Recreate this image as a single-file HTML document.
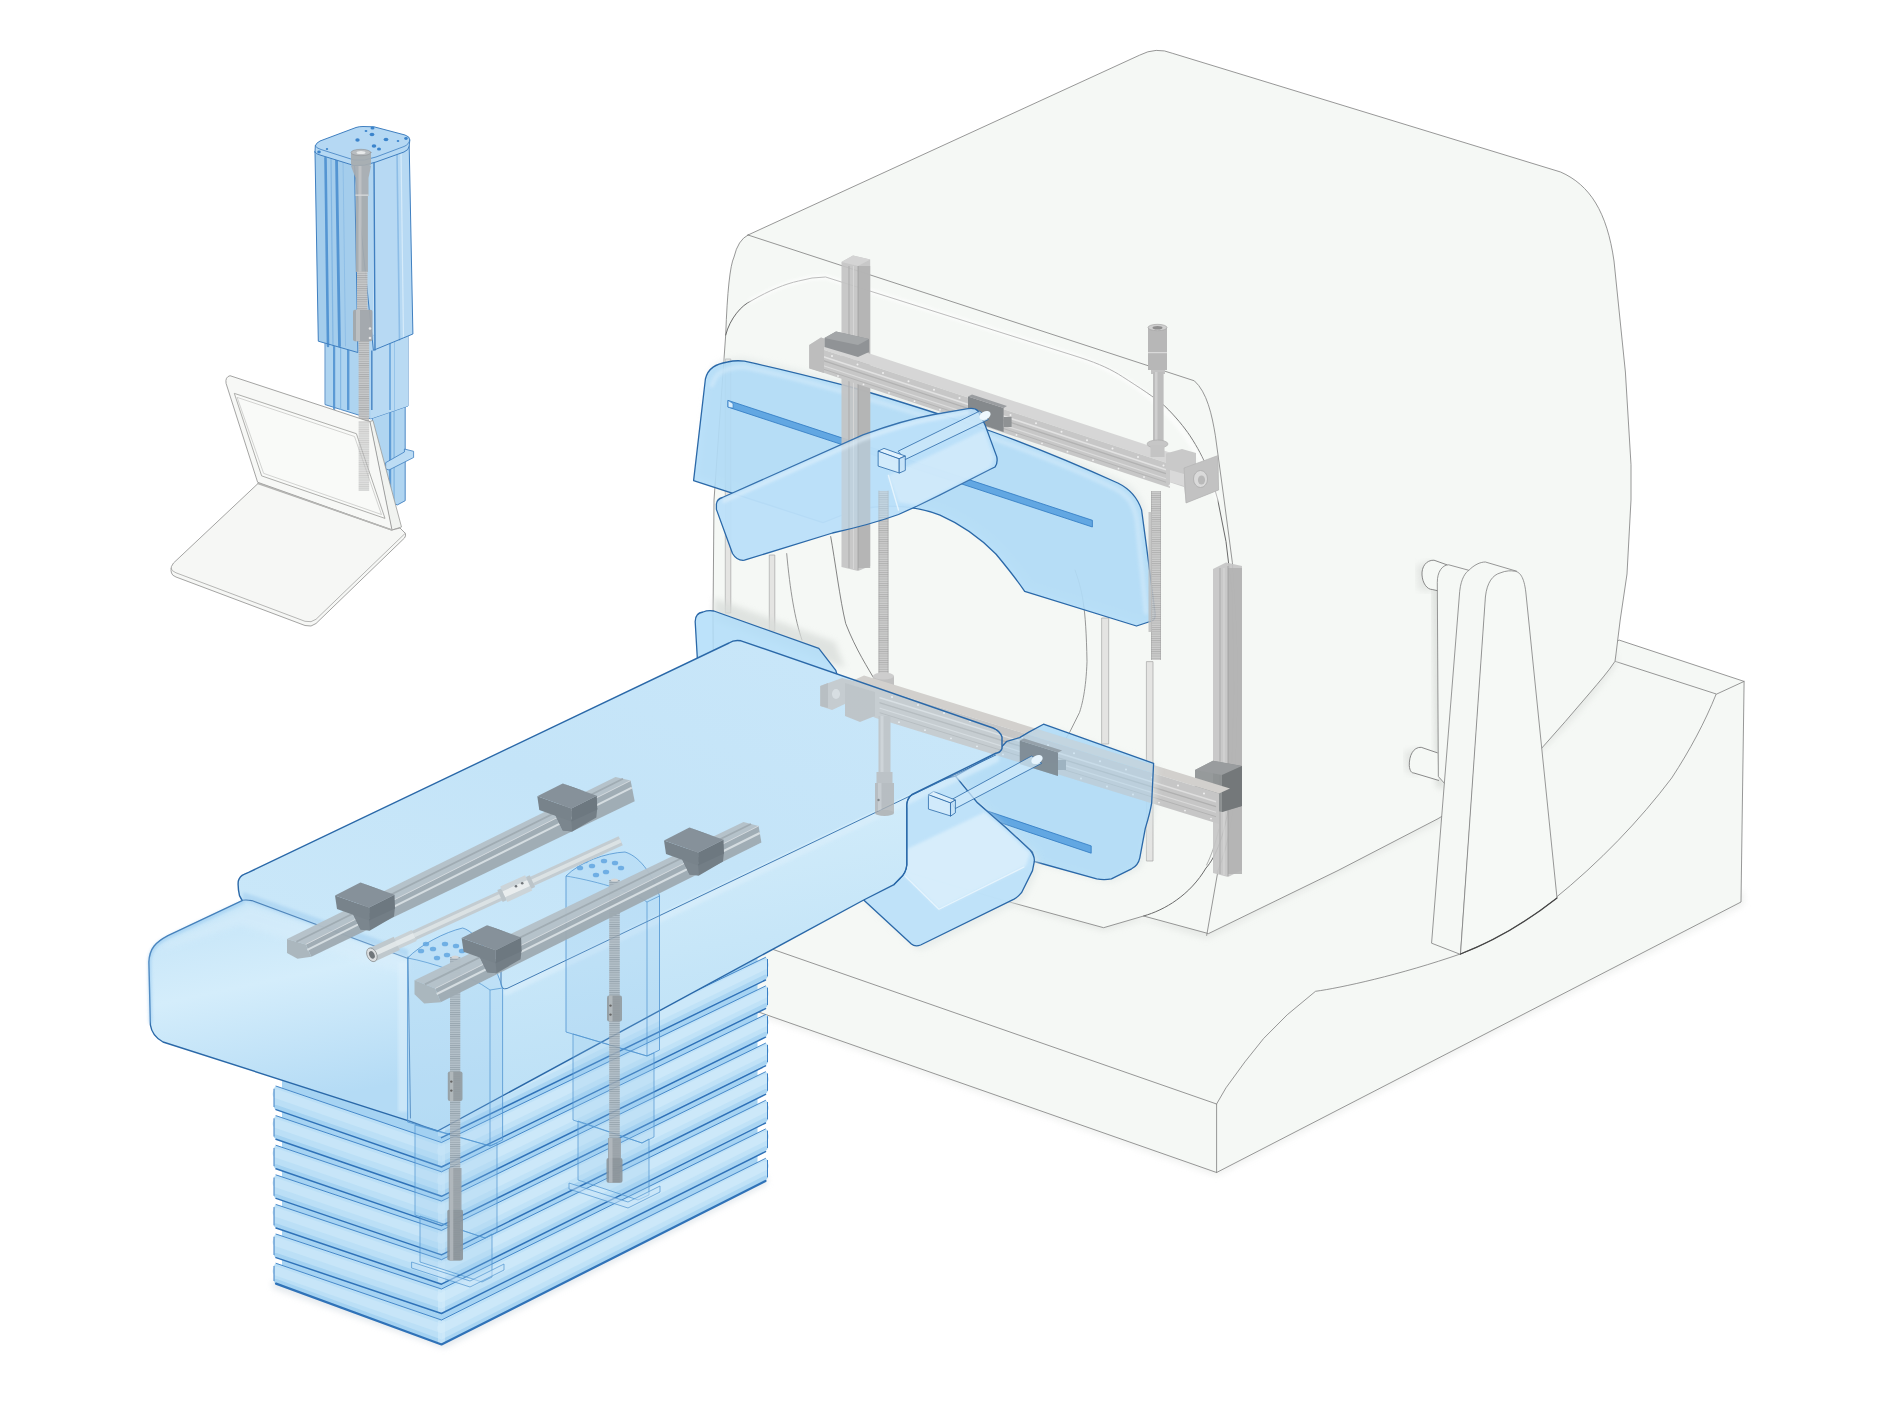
<!DOCTYPE html>
<html><head><meta charset="utf-8"><title>Scanner illustration</title>
<style>
html,body{margin:0;padding:0;background:#fff;font-family:"Liberation Sans",sans-serif;}
svg{display:block}
</style></head><body>
<svg width="1890" height="1417" viewBox="0 0 1890 1417">
<defs>
<linearGradient id="gRib" x1="0" y1="0" x2="0" y2="1">
  <stop offset="0" stop-color="#cbe7f9"/><stop offset="0.55" stop-color="#b4daf5"/><stop offset="1" stop-color="#9ccdf1"/>
</linearGradient>
<linearGradient id="gRibR" x1="0" y1="0" x2="0" y2="1">
  <stop offset="0" stop-color="#d2eafa"/><stop offset="0.55" stop-color="#bcdff6"/><stop offset="1" stop-color="#a4d1f2"/>
</linearGradient>
<linearGradient id="gEnd" x1="0" y1="0" x2="0.25" y2="1">
  <stop offset="0" stop-color="#c2e3f7"/><stop offset="0.45" stop-color="#d4edfb"/><stop offset="1" stop-color="#b4dbf5"/>
</linearGradient>
<linearGradient id="gSide" x1="0" y1="0" x2="0.3" y2="1">
  <stop offset="0" stop-color="#c6e5f8"/><stop offset="0.5" stop-color="#d2ecfa"/><stop offset="1" stop-color="#bce0f6"/>
</linearGradient>
<linearGradient id="gTop" x1="0" y1="1" x2="1" y2="0">
  <stop offset="0" stop-color="#cbe8f9"/><stop offset="0.5" stop-color="#c4e4f8"/><stop offset="1" stop-color="#cae7f9"/>
</linearGradient>
<linearGradient id="gDet" x1="0" y1="0" x2="1" y2="1">
  <stop offset="0" stop-color="#a9d4f4" stop-opacity="0.85"/><stop offset="0.5" stop-color="#bfe0f8" stop-opacity="0.8"/><stop offset="1" stop-color="#b3daf6" stop-opacity="0.85"/>
</linearGradient>
<linearGradient id="gCol" x1="0" y1="0" x2="1" y2="0">
  <stop offset="0" stop-color="#9fcbec"/><stop offset="1" stop-color="#b4d8f2"/>
</linearGradient>
<pattern id="thr" width="4" height="2.2" patternUnits="userSpaceOnUse">
  <rect width="4" height="2.2" fill="#c9c9c9"/><rect y="0" width="4" height="0.9" fill="#a9a9a9"/>
</pattern>
<pattern id="thr2" width="4" height="2.2" patternUnits="userSpaceOnUse">
  <rect width="4" height="2.2" fill="#b4bbc0"/><rect y="0" width="4" height="0.9" fill="#8d969c"/>
</pattern>
<filter id="soft" x="-5%" y="-5%" width="110%" height="110%"><feGaussianBlur stdDeviation="3"/></filter>
<filter id="soft2" x="-5%" y="-5%" width="110%" height="110%"><feGaussianBlur stdDeviation="1.5"/></filter>
</defs>
<rect x="0.0" y="0.0" width="1890.0" height="1417.0" fill="#ffffff" />
<g id="base" stroke-linejoin="round" stroke-linecap="round">
<path d="M700,995 L1216.6,1176 L1744,905 L1744,890 L1216.6,1160 L700,980 Z" fill="#e9ebe9" stroke="none" stroke-width="1" filter="url(#soft)" opacity="0.7"/>
<path d="M690,920.5 L690,988 L1216.6,1172.5 L1741,902 L1744.1,681.4 L1619.2,640.1 L1500,690 L900,690 Z" fill="#f5f8f5" stroke="#7d7d7d" stroke-width="0.8" />
<path d="M690,920.5 L1216.6,1104 L1216.6,1172.5" fill="none" stroke="#7d7d7d" stroke-width="0.8" />
<path d="M1216.6,1104 L1226,1087.8 L1244.9,1061.9 L1263.7,1038.4 L1287.2,1014.8 L1315.5,991.3 C1340,988 1400,975 1461.5,953.6 C1500,938 1530,918 1553,900 C1600,862 1640,820 1671.7,778 C1690,750 1705,722 1716,694.5" fill="none" stroke="#7d7d7d" stroke-width="0.8" />
<path d="M1615,661.3 L1716.6,694.1 L1744.1,681.4" fill="none" stroke="#7d7d7d" stroke-width="0.8" />
</g>
<g id="gantry" stroke-linejoin="round" stroke-linecap="round">
<path d="M1000,902 L1103.6,931 L1143.6,920 L1207,939 L1438,823 C1500,790 1560,745 1616,665 L1616,650 L1207,925 Z" fill="#e3e6e3" stroke="none" stroke-width="1" filter="url(#soft)" opacity="0.8"/>
<path d="M748,235 L1139.5,55.2 Q1156.2,46.5 1172.8,53.4 L1560.6,172 C1590,185 1607,212 1614,261 L1625.4,372 L1631,464.7 L1631,500 L1627,574 L1620.2,620 L1616,653.9 L1615,661.3 C1608,672 1599,682 1590.6,692 L1565.2,721.6 L1540.8,749.2 C1522,768 1503,780 1486.5,789 L1438,818.7 L1338,870.5 L1208.5,933.6 L1143.6,916 L1103.6,927.7 L1000,899.4 L900,870 L714,800 L713,620 L714,500 L725.7,335 Q728,270 734,257 Q738,240 748,235 Z" fill="#f5f8f5" stroke="#7d7d7d" stroke-width="0.8" />
<path d="M748,235 L1194.3,380.8 C1207,392 1212,415 1215.4,435.8 L1224,499 L1232.4,562.8 L1236.6,630 L1238,685 L1234.5,796 C1230,840 1222,860 1218,870.5 L1206.7,935.4" fill="none" stroke="#7d7d7d" stroke-width="0.8" />
<path d="M725.7,335 C730,318 742,305 751,301 C770,290 785,284 798.5,281 Q812,277 825.6,277 L1080,357.5 C1100,364 1112,370 1122.3,376.6 C1140,388 1154,397 1164.7,406 C1176,417 1184,427 1190,435.8 C1198,448 1203,458 1207,467.6 C1212,480 1215,490 1217.6,499 L1226,541.6 L1232.4,594.5 L1234,690 L1231,790 C1226,835 1215,858 1206,868 C1190,895 1165,910 1143.6,916" fill="none" stroke="#6a6a6a" stroke-width="1.0" />
<path d="M751,301 C770,290 785,284 798.5,281 Q812,277 825.6,277 L1080,357.5 C1140,380 1190,420 1217.6,499" fill="none" stroke="#ffffff" stroke-width="5" opacity="0.6" filter="url(#soft2)"/>
<path d="M786.7,553.6 C790,590 795,620 802,640" fill="none" stroke="#7d7d7d" stroke-width="0.8" />
<path d="M830.7,536.6 C835,560 840,600 845.7,623.5 C856,650 868,668 876,682" fill="none" stroke="#666" stroke-width="0.8" />
<path d="M1075,570 C1082,590 1086,605 1087,661.6 C1086,690 1082,705 1079.5,712.5 L1069.4,732.8 L1062,745" fill="none" stroke="#7d7d7d" stroke-width="0.8" />
<path d="M1219,829 C1215,845 1211,856 1206.6,865" fill="none" stroke="#7d7d7d" stroke-width="0.6" />
</g>
<g id="pillar" stroke-linejoin="round" stroke-linecap="round">
<path d="M1432,566 L1440,566 L1444,790 L1436,786 Z" fill="#d5d9d5" stroke="none" stroke-width="1" filter="url(#soft)" opacity="0.8"/>
<path d="M1416,566 L1432,560 L1432,592 L1418,590 Z" fill="#d9dcd9" stroke="none" stroke-width="1" filter="url(#soft)" opacity="0.6"/>
<path d="M1404,752 L1420,747 L1418,776 L1406,772 Z" fill="#d9dcd9" stroke="none" stroke-width="1" filter="url(#soft)" opacity="0.6"/>
<path d="M1446.9,564.8 L1434,560.2 C1426,560 1421.5,567 1422,575 C1422.5,583 1427,589.5 1432.2,589.5 L1440,591 L1446,580 Z" fill="#f5f8f5" stroke="none" stroke-width="1" />
<path d="M1446.9,564.8 L1434,560.2 C1426,560 1421.5,567 1422,575 C1422.5,583 1427,589.5 1432.2,589.5 L1438,590.8" fill="none" stroke="#7d7d7d" stroke-width="0.9" />
<path d="M1437.3,752.8 L1421.2,747.3 C1413,747 1409,756 1409.3,765.7 C1409.8,771 1411.5,773 1413.9,773 L1438.6,780.4 Z" fill="#f5f8f5" stroke="none" stroke-width="1" />
<path d="M1437.3,752.8 L1421.2,747.3 C1413,747 1409,756 1409.3,765.7 C1409.8,771 1411.5,773 1413.9,773 L1438.6,780.4" fill="none" stroke="#7d7d7d" stroke-width="0.9" />
<path d="M1437.3,582 C1437.3,572 1442,565 1448.7,564.8 L1468.9,570.3 L1450,790 L1445,784 L1438.6,776.7 Z" fill="#f5f8f5" stroke="#7d7d7d" stroke-width="0.8" />
<path d="M1431.6,942.8 L1459.7,591.4 C1461,578 1466,572 1468.9,570.3 C1474,565 1480,562 1485.4,562 L1516.6,571.2 L1486,600 L1460.5,954 Z" fill="#f5f8f5" stroke="#7d7d7d" stroke-width="0.8" />
<path d="M1460.5,954 L1485.4,597 C1487,582 1493,575 1500,573 C1506,570.5 1511,570.5 1514.8,571.2 C1520,572 1524,577 1525.8,592 L1557,898 Q1510,935 1460.5,954 Z" fill="#f6f9f6" stroke="#7d7d7d" stroke-width="0.8" />
<path d="M1460.5,954 Q1510,935 1557,898" fill="none" stroke="#444" stroke-width="1.2" />
</g>
<g id="detectors" stroke-linejoin="round" stroke-linecap="round">
<rect x="725.7" y="359.0" width="5.1" height="254.0" fill="#e4e4e2" stroke="#a5a5a5" stroke-width="0.7"/>
<rect x="769.7" y="555.0" width="5.1" height="76.0" fill="#e4e4e2" stroke="#a5a5a5" stroke-width="0.7"/>
<rect x="1102.0" y="618.0" width="6.7" height="126.0" fill="#e4e4e2" stroke="#a5a5a5" stroke-width="0.7"/>
<rect x="1146.8" y="661.6" width="6.2" height="199.4" fill="#e4e4e2" stroke="#a5a5a5" stroke-width="0.7"/>
<path d="M693.6,480.6 L705.4,379 C708,368 716,364 727.4,362 Q736,360 744.4,361.2 C790,371 820,379 850.6,387 C900,401 945,416 989,430.5 C1035,447 1080,466 1117.8,483 C1130,489 1138,499 1141.6,510 L1146.6,547.4 L1155,612 Q1156,620 1151.7,621 L1136.5,626 L1024.7,591.4 C1015,577 1005,565 995.9,554 C980,538 960,524 940,515.2 C915,505 880,503 850,512 L823,522.6 Z" fill="#dfe5e4" stroke="none" stroke-width="1" filter="url(#soft)" opacity="0.6" transform="translate(3,-3)"/>
<path d="M693.6,480.6 L705.4,379 C708,368 716,364 727.4,362 Q736,360 744.4,361.2 C790,371 820,379 850.6,387 C900,401 945,416 989,430.5 C1035,447 1080,466 1117.8,483 C1130,489 1138,499 1141.6,510 L1146.6,547.4 L1155,612 Q1156,620 1151.7,621 L1136.5,626 L1024.7,591.4 C1015,577 1005,565 995.9,554 C980,538 960,524 940,515.2 C915,505 880,503 850,512 L823,522.6 Z" fill="rgba(170,218,249,0.80)" stroke="#2a68a8" stroke-width="1.3" />
<path d="M712,385 C716,372 724,368 744,367 C800,378 900,407 989,437 C1040,455 1085,474 1116,489 C1130,497 1134,505 1137,520 L1146,612" fill="none" stroke="#d6ecfb" stroke-width="5" opacity="0.55" filter="url(#soft2)"/>
<polygon points="728.3,400.5 1092.4,520.3 1092.4,527.0 728.3,407.2" fill="#62a7e2" stroke="#2f78c2" stroke-width="0.8" />
<polygon points="728.3,400.5 733.0,403.6 733.0,408.1 728.3,407.2" fill="#d9eefc" stroke="#2f78c2" stroke-width="0.6" />
<path d="M714,598 L835,642 L845,668 L714,620 Z" fill="#d8dcd9" stroke="none" stroke-width="1" filter="url(#soft)" opacity="0.75"/>
<path d="M698.6,680 L695.2,622 Q695,613 703,612 Q708,610 713.9,611 L818.8,648.4 L835.8,670.4 L850,720 L700,720 Z" fill="rgba(176,221,249,0.85)" stroke="#2a68a8" stroke-width="1.3" />
</g>
<g id="mech" stroke-linejoin="round">
<polygon points="841.5,262.0 853.0,255.5 870.2,259.5 870.2,566.0 858.0,571.0 841.5,567.0" fill="#c3c3c3" stroke="none" stroke-width="1" opacity="0.92"/>
<polygon points="841.5,262.0 853.0,255.5 870.2,259.5 858.0,266.0" fill="#d4d4d4" stroke="none" stroke-width="1" />
<rect x="858.0" y="266.0" width="12.2" height="302.0" fill="#b3b3b3" opacity="0.9"/>
<line x1="849.0" y1="266.0" x2="849.0" y2="568.0" stroke="#b0b0b0" stroke-width="1.2" />
<line x1="853.5" y1="266.0" x2="853.5" y2="569.0" stroke="#d6d6d6" stroke-width="1.0" />
<line x1="858.0" y1="266.0" x2="858.0" y2="570.0" stroke="#9f9f9f" stroke-width="0.8" />
<polygon points="809.2,345.0 821.0,337.5 1182.0,456.6 1170.0,464.1" fill="#d6d6d6" stroke="none" stroke-width="1" />
<polygon points="809.2,345.0 1170.0,464.1 1170.0,488.1 809.2,368.0" fill="#c7c7c7" stroke="none" stroke-width="1" />
<line x1="822.0" y1="356.2" x2="1166.0" y2="469.7" stroke="#e2e2e2" stroke-width="1.6" />
<line x1="822.0" y1="360.2" x2="1166.0" y2="473.7" stroke="#b2b2b2" stroke-width="1.4" />
<line x1="822.0" y1="365.2" x2="1166.0" y2="478.7" stroke="#dcdcdc" stroke-width="1.2" />
<line x1="822.0" y1="368.7" x2="1166.0" y2="482.2" stroke="#b5b5b5" stroke-width="1.0" />
<circle cx="832.0" cy="356.0" r="1" fill="#efefef"/>
<circle cx="838.0" cy="376.0" r="0.9" fill="#efefef"/>
<circle cx="857.5" cy="364.4" r="1" fill="#efefef"/>
<circle cx="863.5" cy="384.4" r="0.9" fill="#efefef"/>
<circle cx="883.0" cy="372.9" r="1" fill="#efefef"/>
<circle cx="889.0" cy="392.8" r="0.9" fill="#efefef"/>
<circle cx="908.5" cy="381.3" r="1" fill="#efefef"/>
<circle cx="914.5" cy="401.2" r="0.9" fill="#efefef"/>
<circle cx="934.0" cy="389.7" r="1" fill="#efefef"/>
<circle cx="940.0" cy="409.7" r="0.9" fill="#efefef"/>
<circle cx="959.5" cy="398.1" r="1" fill="#efefef"/>
<circle cx="965.5" cy="418.1" r="0.9" fill="#efefef"/>
<circle cx="985.0" cy="406.5" r="1" fill="#efefef"/>
<circle cx="991.0" cy="426.5" r="0.9" fill="#efefef"/>
<circle cx="1010.5" cy="414.9" r="1" fill="#efefef"/>
<circle cx="1016.5" cy="434.9" r="0.9" fill="#efefef"/>
<circle cx="1036.0" cy="423.3" r="1" fill="#efefef"/>
<circle cx="1042.0" cy="443.3" r="0.9" fill="#efefef"/>
<circle cx="1061.5" cy="431.8" r="1" fill="#efefef"/>
<circle cx="1067.5" cy="451.7" r="0.9" fill="#efefef"/>
<circle cx="1087.0" cy="440.2" r="1" fill="#efefef"/>
<circle cx="1093.0" cy="460.2" r="0.9" fill="#efefef"/>
<circle cx="1112.5" cy="448.6" r="1" fill="#efefef"/>
<circle cx="1118.5" cy="468.6" r="0.9" fill="#efefef"/>
<circle cx="1138.0" cy="457.0" r="1" fill="#efefef"/>
<circle cx="1144.0" cy="477.0" r="0.9" fill="#efefef"/>
<circle cx="1163.5" cy="465.4" r="1" fill="#efefef"/>
<circle cx="1169.5" cy="485.4" r="0.9" fill="#efefef"/>
<polygon points="809.2,345.0 821.0,337.5 824.0,338.5 824.0,373.0 809.2,368.6" fill="#bdbdbd" stroke="none" stroke-width="1" />
<polygon points="824.5,338.0 836.0,331.6 869.0,339.0 869.0,352.0 858.0,357.0 824.5,347.0" fill="#909396" stroke="none" stroke-width="1" />
<polygon points="824.5,338.0 836.0,331.6 869.0,339.0 858.0,345.0" fill="#a3a6a8" stroke="none" stroke-width="1" />
<polygon points="968.0,396.4 1003.6,408.0 1003.6,432.0 968.0,420.0" fill="#85898c" stroke="none" stroke-width="1" />
<polygon points="968.0,396.4 972.0,394.6 1007.0,406.0 1003.6,408.0" fill="#9a9da0" stroke="none" stroke-width="1" />
<rect x="1003.6" y="417.0" width="8.0" height="10.0" fill="#8f9294" />
<polygon points="1166.0,453.6 1182.0,449.0 1196.0,453.0 1196.0,470.0 1217.0,461.0 1218.6,490.0 1186.0,503.0 1184.0,487.0 1166.0,481.0" fill="#c9c9c9" stroke="none" stroke-width="1" />
<polygon points="1184.0,468.0 1218.0,455.5 1218.6,490.0 1186.0,503.0" fill="#c2c2c2" stroke="#b0b0b0" stroke-width="0.6" />
<ellipse cx="1200.5" cy="479" rx="7" ry="8.5" fill="#dadada" stroke="#ababab" stroke-width="0.8"/>
<ellipse cx="1201.5" cy="480" rx="3.6" ry="4.6" fill="#b9b9b9"/>
<polygon points="1170.0,470.0 1184.0,474.0 1184.0,486.0 1170.0,482.0" fill="#d9d9d9" stroke="none" stroke-width="1" />
<rect x="1148.0" y="327.0" width="19.0" height="43.0" fill="#b7b7b7" />
<ellipse cx="1157.5" cy="327.5" rx="9.5" ry="3.2" fill="#cfcfcf" stroke="#a0a0a0" stroke-width="0.6"/>
<ellipse cx="1157.5" cy="327.7" rx="5" ry="1.8" fill="#8e8e8e"/>
<rect x="1148.0" y="352.0" width="19.0" height="1.2" fill="#d9d9d9" />
<rect x="1151.0" y="370.0" width="14.0" height="4.0" fill="#c2c2c2" />
<rect x="1153.0" y="372.0" width="10.6" height="70.0" fill="#bdbdbd" />
<rect x="1155.0" y="372.0" width="2.5" height="70.0" fill="#cfcfcf" />
<ellipse cx="1157.5" cy="444" rx="10.5" ry="4" fill="#c6c6c6" stroke="#a8a8a8" stroke-width="0.6"/>
<rect x="1150.5" y="445.0" width="14.0" height="12.0" fill="#c4c4c4" />
<rect x="1151.0" y="491.0" width="10.0" height="169.0" fill="url(#thr)" opacity="0.9"/>
<line x1="1151.3" y1="491.0" x2="1151.3" y2="660.0" stroke="#9c9c9c" stroke-width="0.6" opacity="0.9"/>
<line x1="1160.7" y1="491.0" x2="1160.7" y2="660.0" stroke="#9c9c9c" stroke-width="0.6" opacity="0.9"/>
<rect x="1148.5" y="512.0" width="3.5" height="120.0" fill="#bcbcbc" opacity="0.8"/>
<polygon points="1213.0,569.0 1226.0,562.5 1242.0,566.0 1242.0,870.0 1228.0,877.0 1213.0,873.0" fill="#c4c4c4" stroke="none" stroke-width="1" opacity="0.92"/>
<rect x="1228.0" y="568.0" width="14.0" height="306.0" fill="#b2b2b2" opacity="0.9"/>
<line x1="1220.0" y1="568.0" x2="1220.0" y2="874.0" stroke="#b0b0b0" stroke-width="1.2" />
<line x1="1224.0" y1="568.0" x2="1224.0" y2="875.0" stroke="#d8d8d8" stroke-width="1.0" />
<line x1="1228.0" y1="566.0" x2="1228.0" y2="876.0" stroke="#a0a0a0" stroke-width="0.8" />
<polygon points="1195.0,770.0 1213.0,760.7 1242.0,766.0 1242.0,806.0 1222.0,812.0 1195.0,806.0" fill="#85898b" stroke="none" stroke-width="1" opacity="0.85"/>
<polygon points="1195.0,770.0 1213.0,760.7 1242.0,766.0 1222.0,775.0" fill="#999c9e" stroke="none" stroke-width="1" />
<polygon points="1222.0,775.0 1242.0,766.0 1242.0,806.0 1222.0,812.0" fill="#74787a" stroke="none" stroke-width="1" />
<rect x="878.6" y="491.0" width="9.8" height="190.0" fill="url(#thr)" opacity="0.9"/>
<line x1="878.9" y1="491.0" x2="878.9" y2="681.0" stroke="#9c9c9c" stroke-width="0.6" opacity="0.9"/>
<line x1="888.1" y1="491.0" x2="888.1" y2="681.0" stroke="#9c9c9c" stroke-width="0.6" opacity="0.9"/>
<ellipse cx="883.5" cy="491" rx="4.9" ry="1.8" fill="#c4c4c4"/>
<rect x="873.0" y="676.0" width="21.0" height="9.0" fill="#c0c0c0" />
<ellipse cx="883.5" cy="676" rx="10.5" ry="3.5" fill="#cdcdcd"/>
<polygon points="853.0,680.5 864.0,675.5 1230.0,788.6 1219.0,793.6" fill="#d2d0cd" stroke="none" stroke-width="1" />
<polygon points="853.0,680.5 1219.0,793.6 1219.0,824.1 875.0,717.8 853.0,706.5" fill="#c6c6c6" stroke="none" stroke-width="1" />
<line x1="880.0" y1="697.8" x2="1216.0" y2="801.7" stroke="#dedede" stroke-width="1.5" />
<line x1="880.0" y1="702.8" x2="1216.0" y2="806.7" stroke="#b0b0b0" stroke-width="1.4" />
<line x1="880.0" y1="708.3" x2="1216.0" y2="812.2" stroke="#dadada" stroke-width="1.2" />
<line x1="880.0" y1="712.8" x2="1216.0" y2="816.7" stroke="#b3b3b3" stroke-width="1.0" />
<circle cx="892.0" cy="697.1" r="1" fill="#f0f0f0"/>
<circle cx="899.0" cy="722.2" r="0.9" fill="#f0f0f0"/>
<circle cx="918.0" cy="705.1" r="1" fill="#f0f0f0"/>
<circle cx="925.0" cy="730.2" r="0.9" fill="#f0f0f0"/>
<circle cx="944.0" cy="713.1" r="1" fill="#f0f0f0"/>
<circle cx="951.0" cy="738.3" r="0.9" fill="#f0f0f0"/>
<circle cx="970.0" cy="721.2" r="1" fill="#f0f0f0"/>
<circle cx="977.0" cy="746.3" r="0.9" fill="#f0f0f0"/>
<circle cx="996.0" cy="729.2" r="1" fill="#f0f0f0"/>
<circle cx="1003.0" cy="754.4" r="0.9" fill="#f0f0f0"/>
<circle cx="1022.0" cy="737.2" r="1" fill="#f0f0f0"/>
<circle cx="1029.0" cy="762.4" r="0.9" fill="#f0f0f0"/>
<circle cx="1048.0" cy="745.3" r="1" fill="#f0f0f0"/>
<circle cx="1055.0" cy="770.4" r="0.9" fill="#f0f0f0"/>
<circle cx="1074.0" cy="753.3" r="1" fill="#f0f0f0"/>
<circle cx="1081.0" cy="778.5" r="0.9" fill="#f0f0f0"/>
<circle cx="1100.0" cy="761.3" r="1" fill="#f0f0f0"/>
<circle cx="1107.0" cy="786.5" r="0.9" fill="#f0f0f0"/>
<circle cx="1126.0" cy="769.4" r="1" fill="#f0f0f0"/>
<circle cx="1133.0" cy="794.5" r="0.9" fill="#f0f0f0"/>
<circle cx="1152.0" cy="777.4" r="1" fill="#f0f0f0"/>
<circle cx="1159.0" cy="802.6" r="0.9" fill="#f0f0f0"/>
<circle cx="1178.0" cy="785.4" r="1" fill="#f0f0f0"/>
<circle cx="1185.0" cy="810.6" r="0.9" fill="#f0f0f0"/>
<circle cx="1204.0" cy="793.5" r="1" fill="#f0f0f0"/>
<circle cx="1211.0" cy="818.6" r="0.9" fill="#f0f0f0"/>
<polygon points="820.3,686.0 842.0,678.0 853.4,681.0 853.4,700.0 832.0,710.0 820.3,706.0" fill="#c4c4c4" stroke="none" stroke-width="1" />
<polygon points="820.3,686.0 828.0,683.0 828.0,708.0 820.3,706.0" fill="#b4b4b4" stroke="none" stroke-width="1" />
<polygon points="845.0,683.0 875.0,692.0 875.0,716.0 860.0,722.0 845.0,716.0" fill="#bcbcbc" stroke="none" stroke-width="1" />
<ellipse cx="836" cy="694" rx="4" ry="5" fill="#dcdcdc"/>
<polygon points="1019.8,740.4 1058.0,752.5 1058.0,776.0 1019.8,764.0" fill="#82878a" stroke="none" stroke-width="1" />
<polygon points="1019.8,740.4 1024.0,738.4 1062.0,750.4 1058.0,752.5" fill="#989c9f" stroke="none" stroke-width="1" />
<rect x="1058.0" y="760.0" width="8.0" height="10.0" fill="#8e9193" />
<rect x="878.5" y="716.0" width="12.0" height="60.0" fill="#bebebe" />
<rect x="880.5" y="716.0" width="3.0" height="60.0" fill="#d0d0d0" />
<rect x="876.5" y="772.0" width="16.0" height="12.0" fill="#b9b9b9" />
<rect x="875.0" y="783.0" width="19.0" height="30.0" fill="#b2b2b2" />
<rect x="878.0" y="783.0" width="3.5" height="30.0" fill="#c6c6c6" />
<ellipse cx="884.5" cy="813" rx="9.5" ry="3" fill="#a9a9a9"/>
<circle cx="878.5" cy="800" r="1.2" fill="#6f6f6f"/>
</g>
<g id="detectors2" stroke-linejoin="round" stroke-linecap="round">
<path d="M1043.5,724.2 L1153.6,763.3 L1151.7,802.8 C1150,813 1147.5,821 1145.3,828.4 L1139.8,857.8 C1138.5,864 1135,867 1131.6,868.8 L1111.4,878.9 Q1104,880.3 1096.7,878.9 L1034.3,861.5 L1032.5,852.3 L1006.8,828.4 L977.4,802.8 L955.4,776.1 L995.8,753.2 L1006.8,741.3 L1019.6,737.6 L1028.8,732.1 Z" fill="#dfe5e4" stroke="none" stroke-width="1" filter="url(#soft)" opacity="0.6" transform="translate(4,2)"/>
<path d="M1043.5,724.2 L1153.6,763.3 L1151.7,802.8 C1150,813 1147.5,821 1145.3,828.4 L1139.8,857.8 C1138.5,864 1135,867 1131.6,868.8 L1111.4,878.9 Q1104,880.3 1096.7,878.9 L1034.3,861.5 L1032.5,852.3 L1006.8,828.4 L977.4,802.8 L955.4,776.1 L995.8,753.2 L1006.8,741.3 L1019.6,737.6 L1028.8,732.1 Z" fill="rgba(170,218,249,0.80)" stroke="none" stroke-width="1" />
<clipPath id="clipLR"><path d="M1043.5,724.2 L1153.6,763.3 L1151.7,802.8 C1150,813 1147.5,821 1145.3,828.4 L1139.8,857.8 C1138.5,864 1135,867 1131.6,868.8 L1111.4,878.9 Q1104,880.3 1096.7,878.9 L1034.3,861.5 L1032.5,852.3 L1006.8,828.4 L977.4,802.8 L955.4,776.1 L995.8,753.2 L1006.8,741.3 L1019.6,737.6 L1028.8,732.1 Z"/></clipPath>
<g clip-path="url(#clipLR)" opacity="0.5">
<rect x="878.6" y="491.0" width="9.8" height="190.0" fill="url(#thr)" opacity="0.9"/>
<line x1="878.9" y1="491.0" x2="878.9" y2="681.0" stroke="#9c9c9c" stroke-width="0.6" opacity="0.9"/>
<line x1="888.1" y1="491.0" x2="888.1" y2="681.0" stroke="#9c9c9c" stroke-width="0.6" opacity="0.9"/>
<ellipse cx="883.5" cy="491" rx="4.9" ry="1.8" fill="#c4c4c4"/>
<rect x="873.0" y="676.0" width="21.0" height="9.0" fill="#c0c0c0" />
<ellipse cx="883.5" cy="676" rx="10.5" ry="3.5" fill="#cdcdcd"/>
<polygon points="853.0,680.5 864.0,675.5 1230.0,788.6 1219.0,793.6" fill="#d2d0cd" stroke="none" stroke-width="1" />
<polygon points="853.0,680.5 1219.0,793.6 1219.0,824.1 875.0,717.8 853.0,706.5" fill="#c6c6c6" stroke="none" stroke-width="1" />
<line x1="880.0" y1="697.8" x2="1216.0" y2="801.7" stroke="#dedede" stroke-width="1.5" />
<line x1="880.0" y1="702.8" x2="1216.0" y2="806.7" stroke="#b0b0b0" stroke-width="1.4" />
<line x1="880.0" y1="708.3" x2="1216.0" y2="812.2" stroke="#dadada" stroke-width="1.2" />
<line x1="880.0" y1="712.8" x2="1216.0" y2="816.7" stroke="#b3b3b3" stroke-width="1.0" />
<circle cx="892.0" cy="697.1" r="1" fill="#f0f0f0"/>
<circle cx="899.0" cy="722.2" r="0.9" fill="#f0f0f0"/>
<circle cx="918.0" cy="705.1" r="1" fill="#f0f0f0"/>
<circle cx="925.0" cy="730.2" r="0.9" fill="#f0f0f0"/>
<circle cx="944.0" cy="713.1" r="1" fill="#f0f0f0"/>
<circle cx="951.0" cy="738.3" r="0.9" fill="#f0f0f0"/>
<circle cx="970.0" cy="721.2" r="1" fill="#f0f0f0"/>
<circle cx="977.0" cy="746.3" r="0.9" fill="#f0f0f0"/>
<circle cx="996.0" cy="729.2" r="1" fill="#f0f0f0"/>
<circle cx="1003.0" cy="754.4" r="0.9" fill="#f0f0f0"/>
<circle cx="1022.0" cy="737.2" r="1" fill="#f0f0f0"/>
<circle cx="1029.0" cy="762.4" r="0.9" fill="#f0f0f0"/>
<circle cx="1048.0" cy="745.3" r="1" fill="#f0f0f0"/>
<circle cx="1055.0" cy="770.4" r="0.9" fill="#f0f0f0"/>
<circle cx="1074.0" cy="753.3" r="1" fill="#f0f0f0"/>
<circle cx="1081.0" cy="778.5" r="0.9" fill="#f0f0f0"/>
<circle cx="1100.0" cy="761.3" r="1" fill="#f0f0f0"/>
<circle cx="1107.0" cy="786.5" r="0.9" fill="#f0f0f0"/>
<circle cx="1126.0" cy="769.4" r="1" fill="#f0f0f0"/>
<circle cx="1133.0" cy="794.5" r="0.9" fill="#f0f0f0"/>
<circle cx="1152.0" cy="777.4" r="1" fill="#f0f0f0"/>
<circle cx="1159.0" cy="802.6" r="0.9" fill="#f0f0f0"/>
<circle cx="1178.0" cy="785.4" r="1" fill="#f0f0f0"/>
<circle cx="1185.0" cy="810.6" r="0.9" fill="#f0f0f0"/>
<circle cx="1204.0" cy="793.5" r="1" fill="#f0f0f0"/>
<circle cx="1211.0" cy="818.6" r="0.9" fill="#f0f0f0"/>
<polygon points="820.3,686.0 842.0,678.0 853.4,681.0 853.4,700.0 832.0,710.0 820.3,706.0" fill="#c4c4c4" stroke="none" stroke-width="1" />
<polygon points="820.3,686.0 828.0,683.0 828.0,708.0 820.3,706.0" fill="#b4b4b4" stroke="none" stroke-width="1" />
<polygon points="845.0,683.0 875.0,692.0 875.0,716.0 860.0,722.0 845.0,716.0" fill="#bcbcbc" stroke="none" stroke-width="1" />
<ellipse cx="836" cy="694" rx="4" ry="5" fill="#dcdcdc"/>
<polygon points="1019.8,740.4 1058.0,752.5 1058.0,776.0 1019.8,764.0" fill="#82878a" stroke="none" stroke-width="1" />
<polygon points="1019.8,740.4 1024.0,738.4 1062.0,750.4 1058.0,752.5" fill="#989c9f" stroke="none" stroke-width="1" />
<rect x="1058.0" y="760.0" width="8.0" height="10.0" fill="#8e9193" />
<rect x="878.5" y="716.0" width="12.0" height="60.0" fill="#bebebe" />
<rect x="880.5" y="716.0" width="3.0" height="60.0" fill="#d0d0d0" />
<rect x="876.5" y="772.0" width="16.0" height="12.0" fill="#b9b9b9" />
<rect x="875.0" y="783.0" width="19.0" height="30.0" fill="#b2b2b2" />
<rect x="878.0" y="783.0" width="3.5" height="30.0" fill="#c6c6c6" />
<ellipse cx="884.5" cy="813" rx="9.5" ry="3" fill="#a9a9a9"/>
<circle cx="878.5" cy="800" r="1.2" fill="#6f6f6f"/>
</g>
<g clip-path="url(#clipLR)" opacity="0.55">
<polygon points="1019.8,740.4 1058.0,752.5 1058.0,776.0 1019.8,764.0" fill="#70767a" stroke="none" stroke-width="1" />
<polygon points="1019.8,740.4 1024.0,738.4 1062.0,750.4 1058.0,752.5" fill="#8a8f93" stroke="none" stroke-width="1" />
</g>
<path d="M1043.5,724.2 L1153.6,763.3 L1151.7,802.8 C1150,813 1147.5,821 1145.3,828.4 L1139.8,857.8 C1138.5,864 1135,867 1131.6,868.8 L1111.4,878.9 Q1104,880.3 1096.7,878.9 L1034.3,861.5 L1032.5,852.3 L1006.8,828.4 L977.4,802.8 L955.4,776.1 L995.8,753.2 L1006.8,741.3 L1019.6,737.6 L1028.8,732.1 Z" fill="none" stroke="#2a68a8" stroke-width="1.3" />
<polygon points="985.0,810.2 1091.2,845.9 1091.2,853.2 985.0,817.5" fill="#62a7e2" stroke="#2f78c2" stroke-width="0.8" />
<path d="M955.4,776.1 L977.4,802.8 L1006.8,828.4 L1030,850 Q1035,856 1034.3,861.5 L1032.5,870.6 L1021.5,892.7 Q1018,897 1014.1,899.1 L920.6,945 Q915,947 911.4,944 L863.7,900 L840,870 L860,800 Z" fill="#dfe5e4" stroke="none" stroke-width="1" filter="url(#soft)" opacity="0.6" transform="translate(4,4)"/>
<path d="M955.4,776.1 L977.4,802.8 L1006.8,828.4 L1030,850 Q1035,856 1034.3,861.5 L1032.5,870.6 L1021.5,892.7 Q1018,897 1014.1,899.1 L920.6,945 Q915,947 911.4,944 L863.7,900 L840,870 L860,800 Z" fill="rgba(189,225,249,0.97)" stroke="#2a68a8" stroke-width="1.3" />
<path d="M905,876 L938.9,909.2 L1026,866 L1030,853 L985,812 L905,850 Z" fill="#dff1fc" stroke="none" stroke-width="1" opacity="0.75" filter="url(#soft2)"/>
<path d="M905,876 L938.9,909.2 L1024,867" fill="none" stroke="#e9f5fd" stroke-width="1.2" opacity="0.9"/>
<polygon points="950.8,800.0 1031.6,756.0 1041.7,763.3 955.4,808.5" fill="rgba(205,232,250,0.75)" stroke="#2a68a8" stroke-width="0.8" />
<ellipse cx="1037" cy="759.6" rx="6" ry="4" fill="#e6f4fd" transform="rotate(-28 1037 759.6)"/>
<polygon points="928.8,794.5 950.8,802.7 950.8,816.0 928.8,809.2" fill="rgba(214,236,251,0.8)" stroke="#2a68a8" stroke-width="0.8" />
<polygon points="928.8,794.5 933.4,791.4 955.4,800.0 950.8,802.7" fill="rgba(225,241,252,0.85)" stroke="#2a68a8" stroke-width="0.8" />
<polygon points="950.8,802.7 955.4,800.0 955.4,812.8 950.8,816.0" fill="rgba(200,228,248,0.85)" stroke="#2a68a8" stroke-width="0.8" />
<path d="M716.4,509.4 L716.4,504 Q717,499 722.4,497.5 L863,434.9 C890,425 915,418 934,414.5 L968,408.6 Q975,407.5 978,411 L985,424.7 L996.8,456.9 Q998,463 995,467 L990.8,469 L940,494.9 L917.2,506 L898.5,514.5 C875,523 855,528 832.5,533 L744.4,560.2 Q737,561 732.5,553.5 Z" fill="rgba(187,224,249,0.96)" stroke="none" stroke-width="1" />
<clipPath id="clipUF"><path d="M716.4,509.4 L716.4,504 Q717,499 722.4,497.5 L863,434.9 C890,425 915,418 934,414.5 L968,408.6 Q975,407.5 978,411 L985,424.7 L996.8,456.9 Q998,463 995,467 L990.8,469 L940,494.9 L917.2,506 L898.5,514.5 C875,523 855,528 832.5,533 L744.4,560.2 Q737,561 732.5,553.5 Z"/></clipPath>
<g clip-path="url(#clipUF)" opacity="0.55">
<polygon points="841.5,262.0 853.0,255.5 870.2,259.5 870.2,566.0 858.0,571.0 841.5,567.0" fill="#c3c3c3" stroke="none" stroke-width="1" opacity="0.92"/>
<polygon points="841.5,262.0 853.0,255.5 870.2,259.5 858.0,266.0" fill="#d4d4d4" stroke="none" stroke-width="1" />
<rect x="858.0" y="266.0" width="12.2" height="302.0" fill="#b3b3b3" opacity="0.9"/>
<line x1="849.0" y1="266.0" x2="849.0" y2="568.0" stroke="#b0b0b0" stroke-width="1.2" />
<line x1="853.5" y1="266.0" x2="853.5" y2="569.0" stroke="#d6d6d6" stroke-width="1.0" />
<line x1="858.0" y1="266.0" x2="858.0" y2="570.0" stroke="#9f9f9f" stroke-width="0.8" />
<rect x="878.6" y="491.0" width="9.8" height="109.0" fill="url(#thr)" opacity="0.9"/>
<line x1="878.9" y1="491.0" x2="878.9" y2="600.0" stroke="#9c9c9c" stroke-width="0.6" opacity="0.9"/>
<line x1="888.1" y1="491.0" x2="888.1" y2="600.0" stroke="#9c9c9c" stroke-width="0.6" opacity="0.9"/>
</g>
<path d="M716.4,509.4 L716.4,504 Q717,499 722.4,497.5 L863,434.9 C890,425 915,418 934,414.5 L968,408.6 Q975,407.5 978,411 L985,424.7 L996.8,456.9 Q998,463 995,467 L990.8,469 L940,494.9 L917.2,506 L898.5,514.5 C875,523 855,528 832.5,533 L744.4,560.2 Q737,561 732.5,553.5 Z" fill="none" stroke="#2a68a8" stroke-width="1.3" />
<path d="M724,501 L863,439 C890,429 915,422 934,418.5 L968,412.6" fill="none" stroke="#e3f2fc" stroke-width="4" opacity="0.6" filter="url(#soft2)"/>
<path d="M888.4,475.5 L898.5,502.6 L917,505 L990,468 L994,458 L984,430 Z" fill="#e0f1fc" stroke="none" stroke-width="1" opacity="0.55" filter="url(#soft2)"/>
<path d="M888.4,475.5 L898.5,510" fill="none" stroke="#e8f5fd" stroke-width="1.4" opacity="0.9"/>
<polygon points="898.5,451.0 979.8,411.0 988.3,419.6 905.3,459.5" fill="rgba(205,232,250,0.7)" stroke="#2a68a8" stroke-width="0.8" />
<ellipse cx="985" cy="415.5" rx="6" ry="4" fill="#eef8fe" transform="rotate(-28 985 415.5)"/>
<polygon points="878.5,451.0 899.4,458.6 899.4,473.0 878.5,466.2" fill="rgba(214,236,251,0.85)" stroke="#2a68a8" stroke-width="0.8" />
<polygon points="878.5,451.0 884.0,448.4 905.3,456.0 899.4,458.6" fill="rgba(228,243,253,0.9)" stroke="#2a68a8" stroke-width="0.8" />
<polygon points="899.4,458.6 905.3,456.0 905.3,470.4 899.4,473.0" fill="rgba(200,228,248,0.85)" stroke="#2a68a8" stroke-width="0.8" />
</g>
<g id="pedestal" stroke-linejoin="round" stroke-linecap="round">
<path d="M272.9,1288 L444,1348 L767,1184 L767,1176 L444,1338 L272.9,1280 Z" fill="#d5dde3" stroke="none" stroke-width="1" filter="url(#soft)" opacity="0.7"/>
<polygon points="282.0,1060.0 282.0,1280.0 441.5,1340.0 757.5,1182.0 757.5,950.0 600.0,950.0" fill="#a6d3f2" stroke="none" stroke-width="1" />
<path d="M277.0,1263.3 L441.5,1320.0 L441.5,1344.5 L277.0,1283.6 Q274.0,1283.1 274.0,1279.6 L274.0,1267.3 Q274.0,1263.3 277.0,1263.3 Z" fill="#bbdff6" stroke="none" stroke-width="1" />
<line x1="277.0" y1="1271.3" x2="441.5" y2="1328.5" stroke="#cbe8f9" stroke-width="9" opacity="0.75"/>
<line x1="276.0" y1="1281.0" x2="441.5" y2="1341.7" stroke="#9fcff1" stroke-width="4" opacity="0.8"/>
<path d="M441.5,1320.0 L764.5,1158.9 Q767.5,1157.4 767.5,1161.4 L767.5,1176.0 Q767.5,1180.0 764.5,1181.5 L441.5,1344.5 Z" fill="#c0e2f7" stroke="none" stroke-width="1" />
<line x1="441.5" y1="1328.5" x2="764.5" y2="1165.9" stroke="#d0eafa" stroke-width="9" opacity="0.75"/>
<line x1="441.5" y1="1341.7" x2="765.5" y2="1177.6" stroke="#a5d2f2" stroke-width="4" opacity="0.8"/>
<rect x="438.0" y="1321.0" width="7.0" height="22.0" fill="#d6ecfb" opacity="0.55"/>
<path d="M276.0,1263.3 L441.5,1320.0 L765.5,1158.4" fill="none" stroke="#3a7fc4" stroke-width="0.9" />
<path d="M276.0,1283.6 L441.5,1344.5 L765.5,1181.0" fill="none" stroke="#2f72b8" stroke-width="2.2" />
<path d="M274.0,1266.3 L274.0,1280.6" fill="none" stroke="#3a7fc4" stroke-width="1.0" />
<path d="M767.5,1160.4 L767.5,1177.0" fill="none" stroke="#3a7fc4" stroke-width="1.0" />
<path d="M277.0,1234.1 L441.5,1289.0 L441.5,1313.5 L277.0,1257.6 Q274.0,1257.1 274.0,1253.6 L274.0,1238.1 Q274.0,1234.1 277.0,1234.1 Z" fill="#bbdff6" stroke="none" stroke-width="1" />
<line x1="277.0" y1="1242.1" x2="441.5" y2="1297.5" stroke="#cbe8f9" stroke-width="9" opacity="0.75"/>
<line x1="276.0" y1="1255.0" x2="441.5" y2="1310.7" stroke="#9fcff1" stroke-width="4" opacity="0.8"/>
<path d="M441.5,1289.0 L764.5,1129.5 Q767.5,1128.0 767.5,1132.0 L767.5,1146.6 Q767.5,1150.6 764.5,1152.1 L441.5,1313.5 Z" fill="#c0e2f7" stroke="none" stroke-width="1" />
<line x1="441.5" y1="1297.5" x2="764.5" y2="1136.5" stroke="#d0eafa" stroke-width="9" opacity="0.75"/>
<line x1="441.5" y1="1310.7" x2="765.5" y2="1148.2" stroke="#a5d2f2" stroke-width="4" opacity="0.8"/>
<rect x="438.0" y="1290.0" width="7.0" height="22.0" fill="#d6ecfb" opacity="0.55"/>
<path d="M276.0,1234.1 L441.5,1289.0 L765.5,1129.0" fill="none" stroke="#3a7fc4" stroke-width="0.9" />
<path d="M276.0,1257.6 L441.5,1313.5 L765.5,1151.6" fill="none" stroke="#2f72b8" stroke-width="1.5" />
<path d="M274.0,1237.1 L274.0,1254.6" fill="none" stroke="#3a7fc4" stroke-width="1.0" />
<path d="M767.5,1131.0 L767.5,1147.6" fill="none" stroke="#3a7fc4" stroke-width="1.0" />
<path d="M277.0,1204.5 L441.5,1259.7 L441.5,1284.2 L277.0,1228.0 Q274.0,1227.5 274.0,1224.0 L274.0,1208.5 Q274.0,1204.5 277.0,1204.5 Z" fill="#bbdff6" stroke="none" stroke-width="1" />
<line x1="277.0" y1="1212.5" x2="441.5" y2="1268.2" stroke="#cbe8f9" stroke-width="9" opacity="0.75"/>
<line x1="276.0" y1="1225.4" x2="441.5" y2="1281.4" stroke="#9fcff1" stroke-width="4" opacity="0.8"/>
<path d="M441.5,1259.7 L764.5,1100.9 Q767.5,1099.4 767.5,1103.4 L767.5,1118.0 Q767.5,1122.0 764.5,1123.5 L441.5,1284.2 Z" fill="#c0e2f7" stroke="none" stroke-width="1" />
<line x1="441.5" y1="1268.2" x2="764.5" y2="1107.9" stroke="#d0eafa" stroke-width="9" opacity="0.75"/>
<line x1="441.5" y1="1281.4" x2="765.5" y2="1119.6" stroke="#a5d2f2" stroke-width="4" opacity="0.8"/>
<rect x="438.0" y="1260.7" width="7.0" height="22.0" fill="#d6ecfb" opacity="0.55"/>
<path d="M276.0,1204.5 L441.5,1259.7 L765.5,1100.4" fill="none" stroke="#3a7fc4" stroke-width="0.9" />
<path d="M276.0,1228.0 L441.5,1284.2 L765.5,1123.0" fill="none" stroke="#2f72b8" stroke-width="1.5" />
<path d="M274.0,1207.5 L274.0,1225.0" fill="none" stroke="#3a7fc4" stroke-width="1.0" />
<path d="M767.5,1102.4 L767.5,1119.0" fill="none" stroke="#3a7fc4" stroke-width="1.0" />
<path d="M277.0,1174.9 L441.5,1230.4 L441.5,1254.9 L277.0,1198.4 Q274.0,1197.9 274.0,1194.4 L274.0,1178.9 Q274.0,1174.9 277.0,1174.9 Z" fill="#bbdff6" stroke="none" stroke-width="1" />
<line x1="277.0" y1="1182.9" x2="441.5" y2="1238.9" stroke="#cbe8f9" stroke-width="9" opacity="0.75"/>
<line x1="276.0" y1="1195.8" x2="441.5" y2="1252.1" stroke="#9fcff1" stroke-width="4" opacity="0.8"/>
<path d="M441.5,1230.4 L764.5,1072.3 Q767.5,1070.8 767.5,1074.8 L767.5,1089.4 Q767.5,1093.4 764.5,1094.9 L441.5,1254.9 Z" fill="#c0e2f7" stroke="none" stroke-width="1" />
<line x1="441.5" y1="1238.9" x2="764.5" y2="1079.3" stroke="#d0eafa" stroke-width="9" opacity="0.75"/>
<line x1="441.5" y1="1252.1" x2="765.5" y2="1091.0" stroke="#a5d2f2" stroke-width="4" opacity="0.8"/>
<rect x="438.0" y="1231.4" width="7.0" height="22.0" fill="#d6ecfb" opacity="0.55"/>
<path d="M276.0,1174.9 L441.5,1230.4 L765.5,1071.8" fill="none" stroke="#3a7fc4" stroke-width="0.9" />
<path d="M276.0,1198.4 L441.5,1254.9 L765.5,1094.4" fill="none" stroke="#2f72b8" stroke-width="1.5" />
<path d="M274.0,1177.9 L274.0,1195.4" fill="none" stroke="#3a7fc4" stroke-width="1.0" />
<path d="M767.5,1073.8 L767.5,1090.4" fill="none" stroke="#3a7fc4" stroke-width="1.0" />
<path d="M277.0,1145.3 L441.5,1201.1 L441.5,1225.6 L277.0,1168.8 Q274.0,1168.3 274.0,1164.8 L274.0,1149.3 Q274.0,1145.3 277.0,1145.3 Z" fill="#bbdff6" stroke="none" stroke-width="1" />
<line x1="277.0" y1="1153.3" x2="441.5" y2="1209.6" stroke="#cbe8f9" stroke-width="9" opacity="0.75"/>
<line x1="276.0" y1="1166.2" x2="441.5" y2="1222.8" stroke="#9fcff1" stroke-width="4" opacity="0.8"/>
<path d="M441.5,1201.1 L764.5,1043.7 Q767.5,1042.2 767.5,1046.2 L767.5,1060.8 Q767.5,1064.8 764.5,1066.3 L441.5,1225.6 Z" fill="#c0e2f7" stroke="none" stroke-width="1" />
<line x1="441.5" y1="1209.6" x2="764.5" y2="1050.7" stroke="#d0eafa" stroke-width="9" opacity="0.75"/>
<line x1="441.5" y1="1222.8" x2="765.5" y2="1062.4" stroke="#a5d2f2" stroke-width="4" opacity="0.8"/>
<rect x="438.0" y="1202.1" width="7.0" height="22.0" fill="#d6ecfb" opacity="0.55"/>
<path d="M276.0,1145.3 L441.5,1201.1 L765.5,1043.2" fill="none" stroke="#3a7fc4" stroke-width="0.9" />
<path d="M276.0,1168.8 L441.5,1225.6 L765.5,1065.8" fill="none" stroke="#2f72b8" stroke-width="1.5" />
<path d="M274.0,1148.3 L274.0,1165.8" fill="none" stroke="#3a7fc4" stroke-width="1.0" />
<path d="M767.5,1045.2 L767.5,1061.8" fill="none" stroke="#3a7fc4" stroke-width="1.0" />
<path d="M277.0,1115.7 L441.5,1171.8 L441.5,1196.3 L277.0,1139.2 Q274.0,1138.7 274.0,1135.2 L274.0,1119.7 Q274.0,1115.7 277.0,1115.7 Z" fill="#bbdff6" stroke="none" stroke-width="1" />
<line x1="277.0" y1="1123.7" x2="441.5" y2="1180.3" stroke="#cbe8f9" stroke-width="9" opacity="0.75"/>
<line x1="276.0" y1="1136.6" x2="441.5" y2="1193.5" stroke="#9fcff1" stroke-width="4" opacity="0.8"/>
<path d="M441.5,1171.8 L764.5,1015.1 Q767.5,1013.6 767.5,1017.6 L767.5,1032.2 Q767.5,1036.2 764.5,1037.7 L441.5,1196.3 Z" fill="#c0e2f7" stroke="none" stroke-width="1" />
<line x1="441.5" y1="1180.3" x2="764.5" y2="1022.1" stroke="#d0eafa" stroke-width="9" opacity="0.75"/>
<line x1="441.5" y1="1193.5" x2="765.5" y2="1033.8" stroke="#a5d2f2" stroke-width="4" opacity="0.8"/>
<rect x="438.0" y="1172.8" width="7.0" height="22.0" fill="#d6ecfb" opacity="0.55"/>
<path d="M276.0,1115.7 L441.5,1171.8 L765.5,1014.6" fill="none" stroke="#3a7fc4" stroke-width="0.9" />
<path d="M276.0,1139.2 L441.5,1196.3 L765.5,1037.2" fill="none" stroke="#2f72b8" stroke-width="1.5" />
<path d="M274.0,1118.7 L274.0,1136.2" fill="none" stroke="#3a7fc4" stroke-width="1.0" />
<path d="M767.5,1016.6 L767.5,1033.2" fill="none" stroke="#3a7fc4" stroke-width="1.0" />
<path d="M277.0,1086.1 L441.5,1142.5 L441.5,1167.0 L277.0,1109.6 Q274.0,1109.1 274.0,1105.6 L274.0,1090.1 Q274.0,1086.1 277.0,1086.1 Z" fill="#bbdff6" stroke="none" stroke-width="1" />
<line x1="277.0" y1="1094.1" x2="441.5" y2="1151.0" stroke="#cbe8f9" stroke-width="9" opacity="0.75"/>
<line x1="276.0" y1="1107.0" x2="441.5" y2="1164.2" stroke="#9fcff1" stroke-width="4" opacity="0.8"/>
<path d="M441.5,1142.5 L764.5,986.5 Q767.5,985.0 767.5,989.0 L767.5,1003.6 Q767.5,1007.6 764.5,1009.1 L441.5,1167.0 Z" fill="#c0e2f7" stroke="none" stroke-width="1" />
<line x1="441.5" y1="1151.0" x2="764.5" y2="993.5" stroke="#d0eafa" stroke-width="9" opacity="0.75"/>
<line x1="441.5" y1="1164.2" x2="765.5" y2="1005.2" stroke="#a5d2f2" stroke-width="4" opacity="0.8"/>
<rect x="438.0" y="1143.5" width="7.0" height="22.0" fill="#d6ecfb" opacity="0.55"/>
<path d="M276.0,1086.1 L441.5,1142.5 L765.5,986.0" fill="none" stroke="#3a7fc4" stroke-width="0.9" />
<path d="M276.0,1109.6 L441.5,1167.0 L765.5,1008.6" fill="none" stroke="#2f72b8" stroke-width="1.5" />
<path d="M274.0,1089.1 L274.0,1106.6" fill="none" stroke="#3a7fc4" stroke-width="1.0" />
<path d="M767.5,988.0 L767.5,1004.6" fill="none" stroke="#3a7fc4" stroke-width="1.0" />
<path d="M441.5,1113.2 L764.5,957.9 Q767.5,956.4 767.5,960.4 L767.5,975.0 Q767.5,979.0 764.5,980.5 L441.5,1137.7 Z" fill="#c0e2f7" stroke="none" stroke-width="1" />
<line x1="441.5" y1="1121.7" x2="764.5" y2="964.9" stroke="#d0eafa" stroke-width="9" opacity="0.75"/>
<line x1="441.5" y1="1134.9" x2="765.5" y2="976.6" stroke="#a5d2f2" stroke-width="4" opacity="0.8"/>
<rect x="438.0" y="1114.2" width="7.0" height="22.0" fill="#d6ecfb" opacity="0.55"/>
<path d="M441.5,1113.2 L765.5,957.4" fill="none" stroke="#3a7fc4" stroke-width="0.9" />
<path d="M441.5,1137.7 L765.5,980.0" fill="none" stroke="#2f72b8" stroke-width="1.5" />
<path d="M767.5,959.4 L767.5,976.0" fill="none" stroke="#3a7fc4" stroke-width="1.0" />
</g>
<g id="table" stroke-linejoin="round" stroke-linecap="round">
<path d="M148.9,962 C149.5,948 156,942 168,935.6 L242.2,900.6 L239.5,895.7 Q237.6,887 238.3,881 Q240,876 244,874.4 L248.6,872.4 L729,643 Q734,639.5 741,640.8 L993,728 Q1000,731 1002,737 L1002,748.6 Q1000,753 995.8,753.2 L912,794.5 Q906,799 906.8,808 L906.8,865 Q906,873 900.4,878 L894,884.6 L863.7,900 L437.6,1131 Q425,1127 411,1121.6 L163,1042 Q152,1036 150.4,1025 Z" fill="url(#gSide)" stroke="none" stroke-width="1" />
<path d="M148.9,962 C149.5,948 156,942 168,935.6 L242.2,900.6 L408,958.5 L411,1121.6 L163,1042 Q152,1036 150.4,1025 Z" fill="url(#gEnd)" stroke="none" stroke-width="1" />
<path d="M242.2,900.6 L239.5,895.7 Q237.6,887 238.3,881 Q240,876 244,874.4 L248.6,872.4 L729,643 Q734,639.5 741,640.8 L993,728 Q1000,731 1002,737 L1002,748.6 Q1000,753 995.8,753.2 L502,988 L408,958.5 Z" fill="url(#gTop)" stroke="none" stroke-width="1" />
<path d="M506,992 L995.8,759 " fill="none" stroke="#d9eefb" stroke-width="7" opacity="0.7" filter="url(#soft2)"/>
<polygon points="243.0,892.0 242.2,900.2 408.0,958.5 408.0,950.0" fill="#a3cff0" stroke="none" stroke-width="1" opacity="0.6" filter="url(#soft2)"/>
<path d="M242.2,900.2 Q247,899.5 251.8,900.6 L408,958.5" fill="none" stroke="#2a68a8" stroke-width="1.1" opacity="0.8"/>
<path d="M160,950 C165,944 172,940 180,938 L250,905 L408,958 L408,975 L240,925 Z" fill="#d9eefb" stroke="none" stroke-width="1" opacity="0.55" filter="url(#soft)"/>
<rect x="398.0" y="962.0" width="10.0" height="150.0" fill="#dff1fc" opacity="0.5" filter="url(#soft2)"/>
<path d="M408,957 L410.5,1118" fill="none" stroke="#2a68a8" stroke-width="0.9" opacity="0.8"/>
<path d="M501,938 L501,984 Q501.5,990 507,988.5 L995.8,755" fill="none" stroke="#2a68a8" stroke-width="1.0" opacity="0.85"/>
<path d="M912,794.5 Q906,799 906.8,808 L906.8,865 Q906,873 900.4,878 L894,884.6" fill="none" stroke="#2a68a8" stroke-width="1.1" />
<clipPath id="clipT"><path d="M148.9,962 C149.5,948 156,942 168,935.6 L242.2,900.6 L239.5,895.7 Q237.6,887 238.3,881 Q240,876 244,874.4 L248.6,872.4 L729,643 Q734,639.5 741,640.8 L993,728 Q1000,731 1002,737 L1002,748.6 Q1000,753 995.8,753.2 L912,794.5 Q906,799 906.8,808 L906.8,865 Q906,873 900.4,878 L894,884.6 L863.7,900 L437.6,1131 Q425,1127 411,1121.6 L163,1042 Q152,1036 150.4,1025 Z"/></clipPath>
<g clip-path="url(#clipT)" opacity="0.78">
<rect x="878.6" y="491.0" width="9.8" height="190.0" fill="url(#thr)" opacity="0.9"/>
<line x1="878.9" y1="491.0" x2="878.9" y2="681.0" stroke="#9c9c9c" stroke-width="0.6" opacity="0.9"/>
<line x1="888.1" y1="491.0" x2="888.1" y2="681.0" stroke="#9c9c9c" stroke-width="0.6" opacity="0.9"/>
<ellipse cx="883.5" cy="491" rx="4.9" ry="1.8" fill="#c4c4c4"/>
<rect x="873.0" y="676.0" width="21.0" height="9.0" fill="#c0c0c0" />
<ellipse cx="883.5" cy="676" rx="10.5" ry="3.5" fill="#cdcdcd"/>
<polygon points="853.0,680.5 864.0,675.5 1230.0,788.6 1219.0,793.6" fill="#d2d0cd" stroke="none" stroke-width="1" />
<polygon points="853.0,680.5 1219.0,793.6 1219.0,824.1 875.0,717.8 853.0,706.5" fill="#c6c6c6" stroke="none" stroke-width="1" />
<line x1="880.0" y1="697.8" x2="1216.0" y2="801.7" stroke="#dedede" stroke-width="1.5" />
<line x1="880.0" y1="702.8" x2="1216.0" y2="806.7" stroke="#b0b0b0" stroke-width="1.4" />
<line x1="880.0" y1="708.3" x2="1216.0" y2="812.2" stroke="#dadada" stroke-width="1.2" />
<line x1="880.0" y1="712.8" x2="1216.0" y2="816.7" stroke="#b3b3b3" stroke-width="1.0" />
<circle cx="892.0" cy="697.1" r="1" fill="#f0f0f0"/>
<circle cx="899.0" cy="722.2" r="0.9" fill="#f0f0f0"/>
<circle cx="918.0" cy="705.1" r="1" fill="#f0f0f0"/>
<circle cx="925.0" cy="730.2" r="0.9" fill="#f0f0f0"/>
<circle cx="944.0" cy="713.1" r="1" fill="#f0f0f0"/>
<circle cx="951.0" cy="738.3" r="0.9" fill="#f0f0f0"/>
<circle cx="970.0" cy="721.2" r="1" fill="#f0f0f0"/>
<circle cx="977.0" cy="746.3" r="0.9" fill="#f0f0f0"/>
<circle cx="996.0" cy="729.2" r="1" fill="#f0f0f0"/>
<circle cx="1003.0" cy="754.4" r="0.9" fill="#f0f0f0"/>
<circle cx="1022.0" cy="737.2" r="1" fill="#f0f0f0"/>
<circle cx="1029.0" cy="762.4" r="0.9" fill="#f0f0f0"/>
<circle cx="1048.0" cy="745.3" r="1" fill="#f0f0f0"/>
<circle cx="1055.0" cy="770.4" r="0.9" fill="#f0f0f0"/>
<circle cx="1074.0" cy="753.3" r="1" fill="#f0f0f0"/>
<circle cx="1081.0" cy="778.5" r="0.9" fill="#f0f0f0"/>
<circle cx="1100.0" cy="761.3" r="1" fill="#f0f0f0"/>
<circle cx="1107.0" cy="786.5" r="0.9" fill="#f0f0f0"/>
<circle cx="1126.0" cy="769.4" r="1" fill="#f0f0f0"/>
<circle cx="1133.0" cy="794.5" r="0.9" fill="#f0f0f0"/>
<circle cx="1152.0" cy="777.4" r="1" fill="#f0f0f0"/>
<circle cx="1159.0" cy="802.6" r="0.9" fill="#f0f0f0"/>
<circle cx="1178.0" cy="785.4" r="1" fill="#f0f0f0"/>
<circle cx="1185.0" cy="810.6" r="0.9" fill="#f0f0f0"/>
<circle cx="1204.0" cy="793.5" r="1" fill="#f0f0f0"/>
<circle cx="1211.0" cy="818.6" r="0.9" fill="#f0f0f0"/>
<polygon points="820.3,686.0 842.0,678.0 853.4,681.0 853.4,700.0 832.0,710.0 820.3,706.0" fill="#c4c4c4" stroke="none" stroke-width="1" />
<polygon points="820.3,686.0 828.0,683.0 828.0,708.0 820.3,706.0" fill="#b4b4b4" stroke="none" stroke-width="1" />
<polygon points="845.0,683.0 875.0,692.0 875.0,716.0 860.0,722.0 845.0,716.0" fill="#bcbcbc" stroke="none" stroke-width="1" />
<ellipse cx="836" cy="694" rx="4" ry="5" fill="#dcdcdc"/>
<polygon points="1019.8,740.4 1058.0,752.5 1058.0,776.0 1019.8,764.0" fill="#82878a" stroke="none" stroke-width="1" />
<polygon points="1019.8,740.4 1024.0,738.4 1062.0,750.4 1058.0,752.5" fill="#989c9f" stroke="none" stroke-width="1" />
<rect x="1058.0" y="760.0" width="8.0" height="10.0" fill="#8e9193" />
<rect x="878.5" y="716.0" width="12.0" height="60.0" fill="#bebebe" />
<rect x="880.5" y="716.0" width="3.0" height="60.0" fill="#d0d0d0" />
<rect x="876.5" y="772.0" width="16.0" height="12.0" fill="#b9b9b9" />
<rect x="875.0" y="783.0" width="19.0" height="30.0" fill="#b2b2b2" />
<rect x="878.0" y="783.0" width="3.5" height="30.0" fill="#c6c6c6" />
<ellipse cx="884.5" cy="813" rx="9.5" ry="3" fill="#a9a9a9"/>
<circle cx="878.5" cy="800" r="1.2" fill="#6f6f6f"/>
</g>
<path d="M148.9,962 C149.5,948 156,942 168,935.6 L242.2,900.6 L239.5,895.7 Q237.6,887 238.3,881 Q240,876 244,874.4 L248.6,872.4 L729,643 Q734,639.5 741,640.8 L993,728 Q1000,731 1002,737 L1002,748.6 Q1000,753 995.8,753.2 L912,794.5 Q906,799 906.8,808 L906.8,865 Q906,873 900.4,878 L894,884.6 L863.7,900 L437.6,1131 Q425,1127 411,1121.6 L163,1042 Q152,1036 150.4,1025 Z" fill="none" stroke="#2a68a8" stroke-width="1.4" />
<path d="M150.5,1022 L149.5,962 C150,949 157,943 168.5,937 L243,902" fill="none" stroke="#8fc4ee" stroke-width="3" opacity="0.6" filter="url(#soft2)"/>
</g>
<g id="inner" stroke-linejoin="round">
<path d="M407.6,958 C420,945 445,932 462.7,928 C480,933 495,965 502.6,988 L502.6,1140 L490,1146 L407.6,1122 Z" fill="rgba(150,200,238,0.2)" stroke="#4f93d0" stroke-width="0.8" />
<path d="M407.6,958 C430,962 470,975 490,990 L490,1146" fill="none" stroke="#4f93d0" stroke-width="0.7" />
<path d="M490,990 L502.6,988" fill="none" stroke="#4f93d0" stroke-width="0.7" />
<polygon points="415.0,1125.0 415.0,1215.0 485.0,1238.0 497.0,1232.0 497.0,1143.0 490.0,1146.0" fill="rgba(150,200,238,0.22)" stroke="#4f93d0" stroke-width="0.7" />
<polygon points="420.0,1216.0 420.0,1262.0 482.0,1282.0 492.0,1277.0 492.0,1234.0 485.0,1238.0" fill="rgba(150,200,238,0.22)" stroke="#4f93d0" stroke-width="0.7" />
<polygon points="411.6,1262.0 411.6,1268.0 470.0,1287.0 504.0,1270.0 504.0,1264.0 470.0,1281.0" fill="rgba(200,228,248,0.5)" stroke="#4f93d0" stroke-width="0.7" />
<path d="M566,876 C580,862 605,853 625,852 C642,857 655,880 659.5,896 L659.5,1050 L647,1056 L566,1032 Z" fill="rgba(150,200,238,0.2)" stroke="#4f93d0" stroke-width="0.8" />
<path d="M566,876 C590,880 630,890 647,902 L647,1056" fill="none" stroke="#4f93d0" stroke-width="0.7" />
<path d="M647,902 L659.5,896" fill="none" stroke="#4f93d0" stroke-width="0.7" />
<polygon points="573.0,1034.0 573.0,1120.0 642.0,1143.0 654.0,1137.0 654.0,1053.0 647.0,1056.0" fill="rgba(150,200,238,0.22)" stroke="#4f93d0" stroke-width="0.7" />
<polygon points="578.0,1121.0 578.0,1180.0 638.0,1200.0 649.0,1195.0 649.0,1139.0 642.0,1143.0" fill="rgba(150,200,238,0.22)" stroke="#4f93d0" stroke-width="0.7" />
<polygon points="569.0,1183.0 569.0,1189.0 628.0,1208.0 660.0,1192.0 660.0,1186.0 628.0,1202.0" fill="rgba(200,228,248,0.5)" stroke="#4f93d0" stroke-width="0.7" />
<ellipse cx="421.0" cy="951.0" rx="3.2" ry="2.3" fill="#62a6e0" opacity="0.85"/>
<ellipse cx="433.0" cy="949.0" rx="3.2" ry="2.3" fill="#62a6e0" opacity="0.85"/>
<ellipse cx="445.0" cy="944.0" rx="3.2" ry="2.3" fill="#62a6e0" opacity="0.85"/>
<ellipse cx="456.0" cy="946.0" rx="3.2" ry="2.3" fill="#62a6e0" opacity="0.85"/>
<ellipse cx="447.0" cy="955.0" rx="3.2" ry="2.3" fill="#62a6e0" opacity="0.85"/>
<ellipse cx="437.0" cy="958.0" rx="3.2" ry="2.3" fill="#62a6e0" opacity="0.85"/>
<ellipse cx="462.0" cy="951.0" rx="3.2" ry="2.3" fill="#62a6e0" opacity="0.85"/>
<ellipse cx="426.0" cy="944.0" rx="3.2" ry="2.3" fill="#62a6e0" opacity="0.85"/>
<ellipse cx="580.0" cy="868.0" rx="3.2" ry="2.3" fill="#62a6e0" opacity="0.85"/>
<ellipse cx="592.0" cy="866.0" rx="3.2" ry="2.3" fill="#62a6e0" opacity="0.85"/>
<ellipse cx="604.0" cy="861.0" rx="3.2" ry="2.3" fill="#62a6e0" opacity="0.85"/>
<ellipse cx="615.0" cy="863.0" rx="3.2" ry="2.3" fill="#62a6e0" opacity="0.85"/>
<ellipse cx="606.0" cy="872.0" rx="3.2" ry="2.3" fill="#62a6e0" opacity="0.85"/>
<ellipse cx="596.0" cy="875.0" rx="3.2" ry="2.3" fill="#62a6e0" opacity="0.85"/>
<ellipse cx="621.0" cy="868.0" rx="3.2" ry="2.3" fill="#62a6e0" opacity="0.85"/>
<ellipse cx="585.0" cy="861.0" rx="3.2" ry="2.3" fill="#62a6e0" opacity="0.85"/>
<rect x="450.0" y="957.0" width="10.3" height="303.5" fill="url(#thr2)" opacity="0.8"/>
<rect x="447.8" y="1071.6" width="14.7" height="29.4" fill="#929a9f" opacity="0.9" rx="2"/>
<rect x="449.8" y="1071.6" width="3.5" height="29.4" fill="#b3babe" opacity="0.9"/>
<circle cx="451.3" cy="1081.6" r="1.2" fill="#666"/>
<circle cx="451.3" cy="1090.6" r="1.2" fill="#666"/>
<rect x="448.8" y="1168.0" width="12.7" height="41.6" fill="#9aa2a7" opacity="0.9"/>
<rect x="447.3" y="1209.6" width="15.7" height="50.9" fill="#8c9499" opacity="0.9" rx="2"/>
<rect x="449.8" y="1168.0" width="3.5" height="92.5" fill="#b5bcc0" opacity="0.8"/>
<ellipse cx="455.1" cy="957.0" rx="3.6" ry="1.6" fill="#d5d5d5"/>
<rect x="609.2" y="880.0" width="10.6" height="302.7" fill="url(#thr2)" opacity="0.8"/>
<rect x="607.0" y="995.6" width="15.0" height="25.9" fill="#929a9f" opacity="0.9" rx="2"/>
<rect x="609.0" y="995.6" width="3.5" height="25.9" fill="#b3babe" opacity="0.9"/>
<circle cx="610.5" cy="1005.6" r="1.2" fill="#666"/>
<circle cx="610.5" cy="1014.6" r="1.2" fill="#666"/>
<rect x="608.0" y="1138.0" width="13.0" height="20.1" fill="#9aa2a7" opacity="0.9"/>
<rect x="606.5" y="1158.1" width="16.0" height="24.6" fill="#8c9499" opacity="0.9" rx="2"/>
<rect x="609.0" y="1138.0" width="3.5" height="44.7" fill="#b5bcc0" opacity="0.8"/>
<ellipse cx="614.5" cy="880.0" rx="3.6" ry="1.6" fill="#d5d5d5"/>
</g>
<g id="rails" stroke-linejoin="round">
<polygon points="305.8,944.4 630.6,780.6 634.7,801.3 311.3,956.8" fill="#9eaab1" stroke="none" stroke-width="1" opacity="0.95"/>
<polygon points="287.0,939.0 615.5,777.0 630.6,780.6 305.8,944.4" fill="#b4c0c7" stroke="none" stroke-width="1" opacity="0.95"/>
<polygon points="287.0,939.0 305.8,944.4 311.3,956.8 297.5,958.7 287.0,953.0" fill="#a9b4ba" stroke="none" stroke-width="1" opacity="0.95"/>
<line x1="296.4" y1="941.7" x2="623.0" y2="778.8" stroke="#a0acb3" stroke-width="1.8" />
<line x1="307.3" y1="949.9" x2="631.8" y2="787.6" stroke="#d5dde1" stroke-width="2.0" />
<line x1="305.8" y1="944.4" x2="630.6" y2="780.6" stroke="#d9dcde" stroke-width="0.8" />
<polygon points="374.0,959.3 622.8,845.2 618.6,836.2 369.8,950.3" fill="#c3ccd1" stroke="none" stroke-width="1" opacity="1.0"/>
<polygon points="372.7,956.6 621.5,842.5 619.9,838.9 371.1,953.0" fill="#dfe5e8" stroke="none" stroke-width="1" opacity="0.85"/>
<polygon points="374.9,961.4 399.8,950.0 393.8,936.8 368.9,948.2" fill="#bfc8cd" stroke="none" stroke-width="1" opacity="1.0"/>
<polygon points="399.3,948.8 416.7,940.9 411.7,929.9 394.3,937.9" fill="#c9d1d5" stroke="none" stroke-width="1" opacity="1.0"/>
<polygon points="372.9,957.1 415.2,937.7 413.2,933.1 370.9,952.5" fill="#e9edef" stroke="none" stroke-width="1" opacity="0.8"/>
<ellipse cx="371.9" cy="954.8" rx="4.8" ry="7.2" fill="#dcdfe1" stroke="#8f9497" stroke-width="0.8" transform="rotate(-25 371.9 954.8)"/>
<ellipse cx="371.9" cy="954.8" rx="2.6" ry="4.0" fill="#70767a" transform="rotate(-25 371.9 954.8)"/>
<polygon points="507.3,902.1 532.2,890.6 525.1,875.2 500.2,886.6" fill="#ccd4d8" stroke="none" stroke-width="1" opacity="1.0"/>
<polygon points="505.1,897.3 530.0,885.9 527.3,880.0 502.4,891.4" fill="#eceff1" stroke="none" stroke-width="1" opacity="0.9"/>
<polygon points="502.7,901.9 506.5,900.2 501.1,888.4 497.3,890.1" fill="#bcc5ca" stroke="none" stroke-width="1" opacity="1.0"/>
<polygon points="531.4,888.8 535.1,887.1 529.7,875.3 525.9,877.0" fill="#bcc5ca" stroke="none" stroke-width="1" opacity="1.0"/>
<circle cx="516.0" cy="886.2" r="1.3" fill="#6f7478"/>
<circle cx="522.2" cy="883.3" r="1.3" fill="#6f7478"/>
<polygon points="435.2,988.5 758.6,826.0 761.4,842.6 440.7,1002.2" fill="#9eaab1" stroke="none" stroke-width="1" opacity="0.95"/>
<polygon points="414.5,980.2 743.5,822.0 758.6,826.0 435.2,988.5" fill="#b4c0c7" stroke="none" stroke-width="1" opacity="0.95"/>
<polygon points="414.5,980.2 435.2,988.5 440.7,1002.2 424.2,1003.6 414.5,994.2" fill="#a9b4ba" stroke="none" stroke-width="1" opacity="0.95"/>
<line x1="424.9" y1="984.4" x2="751.0" y2="824.0" stroke="#a0acb3" stroke-width="1.8" />
<line x1="436.7" y1="994.0" x2="759.8" y2="833.0" stroke="#d5dde1" stroke-width="2.0" />
<line x1="435.2" y1="988.5" x2="758.6" y2="826.0" stroke="#d9dcde" stroke-width="0.8" />
<polygon points="353.0,914.0 360.5,929.5 370.0,930.5 394.0,916.5 395.0,907.0 369.0,919.0" fill="#737e86" stroke="none" stroke-width="1" />
<polygon points="353.0,914.0 360.5,929.5 370.0,930.5 369.0,919.0" fill="#7b868e" stroke="none" stroke-width="1" />
<polygon points="335.0,895.4 369.1,907.6 369.1,920.5 337.0,909.0" fill="#78838b" stroke="none" stroke-width="1" />
<polygon points="369.1,907.6 394.5,894.8 395.0,908.5 369.1,920.5" fill="#6d7880" stroke="none" stroke-width="1" />
<polygon points="335.0,895.4 360.4,882.6 394.5,894.8 369.1,907.6" fill="#86919a" stroke="none" stroke-width="1" />
<polygon points="372.0,887.5 360.4,882.6 371.0,886.4 383.0,890.7" fill="#7e8991" stroke="none" stroke-width="1" />
<polygon points="555.3,814.9 562.8,830.4 572.3,831.4 596.3,817.4 597.3,807.9 571.3,819.9" fill="#737e86" stroke="none" stroke-width="1" />
<polygon points="555.3,814.9 562.8,830.4 572.3,831.4 571.3,819.9" fill="#7b868e" stroke="none" stroke-width="1" />
<polygon points="537.3,796.3 571.4,808.5 571.4,821.4 539.3,809.9" fill="#78838b" stroke="none" stroke-width="1" />
<polygon points="571.4,808.5 596.8,795.7 597.3,809.4 571.4,821.4" fill="#6d7880" stroke="none" stroke-width="1" />
<polygon points="537.3,796.3 562.7,783.5 596.8,795.7 571.4,808.5" fill="#86919a" stroke="none" stroke-width="1" />
<polygon points="574.3,788.4 562.7,783.5 573.3,787.3 585.3,791.6" fill="#7e8991" stroke="none" stroke-width="1" />
<polygon points="479.6,956.7 487.1,972.2 496.6,973.2 520.6,959.2 521.6,949.7 495.6,961.7" fill="#737e86" stroke="none" stroke-width="1" />
<polygon points="479.6,956.7 487.1,972.2 496.6,973.2 495.6,961.7" fill="#7b868e" stroke="none" stroke-width="1" />
<polygon points="461.6,938.1 495.7,950.3 495.7,963.2 463.6,951.7" fill="#78838b" stroke="none" stroke-width="1" />
<polygon points="495.7,950.3 521.1,937.5 521.6,951.2 495.7,963.2" fill="#6d7880" stroke="none" stroke-width="1" />
<polygon points="461.6,938.1 487.0,925.3 521.1,937.5 495.7,950.3" fill="#86919a" stroke="none" stroke-width="1" />
<polygon points="498.6,930.2 487.0,925.3 497.6,929.1 509.6,933.4" fill="#7e8991" stroke="none" stroke-width="1" />
<polygon points="682.0,859.0 689.5,874.5 699.0,875.5 723.0,861.5 724.0,852.0 698.0,864.0" fill="#737e86" stroke="none" stroke-width="1" />
<polygon points="682.0,859.0 689.5,874.5 699.0,875.5 698.0,864.0" fill="#7b868e" stroke="none" stroke-width="1" />
<polygon points="664.0,840.4 698.1,852.6 698.1,865.5 666.0,854.0" fill="#78838b" stroke="none" stroke-width="1" />
<polygon points="698.1,852.6 723.5,839.8 724.0,853.5 698.1,865.5" fill="#6d7880" stroke="none" stroke-width="1" />
<polygon points="664.0,840.4 689.4,827.6 723.5,839.8 698.1,852.6" fill="#86919a" stroke="none" stroke-width="1" />
<polygon points="701.0,832.5 689.4,827.6 700.0,831.4 712.0,835.7" fill="#7e8991" stroke="none" stroke-width="1" />
</g>
<g id="column" stroke-linejoin="round" stroke-linecap="round">
<polygon points="372.7,400.0 405.2,395.0 405.2,500.7 397.4,504.9 372.7,497.0" fill="#b0d5f1" stroke="#3f7fc0" stroke-width="0.9" />
<rect x="389.0" y="404.0" width="2.2" height="98.0" fill="#4c8fd0" opacity="0.8"/>
<rect x="393.5" y="403.0" width="1.2" height="98.0" fill="#7fb4e2" />
<polygon points="386.0,462.5 404.4,452.0 404.4,449.0 413.6,451.3 413.6,457.5 389.0,470.0 386.0,469.0" fill="#bcdcf4" stroke="#3f7fc0" stroke-width="0.8" />
<polygon points="325.4,330.0 357.9,340.0 408.0,325.0 408.0,406.0 370.6,418.8 325.4,404.7" fill="#aed4f0" stroke="#3f7fc0" stroke-width="0.9" />
<polygon points="370.6,340.0 408.0,325.0 408.0,406.0 370.6,418.8" fill="#b9daf3" stroke="none" stroke-width="1" />
<rect x="333.0" y="340.0" width="2.2" height="70.0" fill="#4c8fd0" opacity="0.85"/>
<rect x="340.0" y="340.0" width="1.2" height="70.0" fill="#7fb4e2" opacity="0.85"/>
<rect x="347.0" y="340.0" width="2.4" height="70.0" fill="#4c8fd0" opacity="0.85"/>
<rect x="371.0" y="340.0" width="1.6" height="70.0" fill="#3f7fc0" opacity="0.85"/>
<rect x="389.0" y="340.0" width="2.0" height="70.0" fill="#6aa6dc" opacity="0.85"/>
<rect x="394.0" y="340.0" width="1.0" height="70.0" fill="#8fbfe8" opacity="0.85"/>
<polygon points="315.0,152.0 318.3,341.2 357.9,352.5 354.5,166.0" fill="#a4cdec" stroke="none" stroke-width="1" />
<polygon points="354.5,166.0 357.9,352.5 373.4,350.3 373.0,160.0" fill="#b2d6f1" stroke="none" stroke-width="1" />
<polygon points="373.0,160.0 373.4,350.3 412.9,334.0 409.2,146.0" fill="#b7d9f3" stroke="none" stroke-width="1" />
<line x1="325.5" y1="158.0" x2="328.0" y2="346.0" stroke="#4c8fd0" stroke-width="2.6" opacity="0.9"/>
<line x1="331.0" y1="158.0" x2="333.0" y2="346.0" stroke="#7fb4e2" stroke-width="1.2" opacity="0.9"/>
<line x1="336.5" y1="158.0" x2="339.5" y2="346.0" stroke="#4c8fd0" stroke-width="2.8" opacity="0.9"/>
<line x1="343.0" y1="158.0" x2="345.5" y2="346.0" stroke="#8dbde6" stroke-width="1.0" opacity="0.9"/>
<line x1="374.0" y1="161.0" x2="375.0" y2="350.0" stroke="#3f7fc0" stroke-width="1.4" />
<line x1="397.0" y1="152.0" x2="399.5" y2="340.0" stroke="#8dbde6" stroke-width="1.6" />
<line x1="401.0" y1="150.0" x2="403.5" y2="338.0" stroke="#d6ebfa" stroke-width="1.2" />
<polygon points="315.0,152.0 318.3,341.2 357.9,352.5 354.5,166.0 373.4,350.3 412.9,334.0 409.2,146.0" fill="none" stroke="#3f7fc0" stroke-width="1.0" />
<path d="M315,152 L315.3,146 Q316,143 320,141 L356,127.5 Q359,126.5 363,126.5 L374,126.8 L405,135 Q410,136.5 409.8,140 L409.2,146 Q409,150 404,152 L376,162 Q364,166.5 354,165.5 L320,155 Q315.5,154 315,152 Z" fill="#b5d8f3" stroke="#3f7fc0" stroke-width="1.0" />
<path d="M315.3,146 Q316,148 321,149.5 L354,160 Q364,161.5 376,157 L404,146.5 Q409,144.5 409.8,140" fill="none" stroke="#3f7fc0" stroke-width="0.8" />
<ellipse cx="357.5" cy="140.0" rx="2.2" ry="1.7" fill="#3b84cc"/>
<ellipse cx="372.0" cy="134.5" rx="2.4" ry="1.8" fill="#3b84cc"/>
<ellipse cx="386.0" cy="139.5" rx="2.4" ry="1.8" fill="#3b84cc"/>
<ellipse cx="374.0" cy="146.0" rx="2.3" ry="1.7" fill="#3b84cc"/>
<ellipse cx="379.0" cy="149.0" rx="2.0" ry="1.5" fill="#3b84cc"/>
<ellipse cx="366.0" cy="131.0" rx="1.4" ry="1.0" fill="#3b84cc"/>
<ellipse cx="398.0" cy="141.0" rx="1.3" ry="1.0" fill="#3b84cc"/>
<ellipse cx="372.5" cy="128.0" rx="2.0" ry="1.5" fill="#3b84cc"/>
<ellipse cx="327.0" cy="149.0" rx="1.2" ry="0.9" fill="#3b84cc"/>
<ellipse cx="319.0" cy="152.0" rx="1.8" ry="1.4" fill="#3b84cc"/>
<ellipse cx="406.0" cy="138.5" rx="1.8" ry="1.4" fill="#3b84cc"/>
<rect x="351.0" y="152.0" width="20.0" height="14.0" fill="#a7abae" opacity="0.92" rx="2"/>
<ellipse cx="361" cy="152.5" rx="10" ry="3.2" fill="#b9bdc0" stroke="#8e9295" stroke-width="0.6"/>
<ellipse cx="361" cy="152.5" rx="4.5" ry="1.6" fill="#e8eaeb"/>
<polygon points="351.0,166.0 371.0,166.0 368.5,178.0 368.5,196.0 355.5,196.0 355.5,178.0" fill="#a9adb0" stroke="none" stroke-width="1" opacity="0.92"/>
<rect x="355.8" y="196.0" width="12.1" height="76.0" fill="#a6aaad" opacity="0.92"/>
<rect x="358.5" y="166.0" width="3.0" height="106.0" fill="#c3c6c8" opacity="0.8"/>
<rect x="355.5" y="194.5" width="13.0" height="1.3" fill="#d8dadb" />
<rect x="357" y="271.5" width="10.5" height="39" fill="url(#thr)" opacity="0.95"/>
<rect x="353.0" y="309.7" width="19.5" height="31.5" fill="#a3a7aa" opacity="0.95" rx="2"/>
<rect x="356.0" y="309.7" width="4.0" height="31.5" fill="#bfc2c4" opacity="0.9"/>
<circle cx="370" cy="328.5" r="1.3" fill="#e4e4e4"/><circle cx="370" cy="338" r="1.3" fill="#e4e4e4"/>
<rect x="358.6" y="341" width="10.6" height="80" fill="url(#thr)" opacity="0.95"/>
<polygon points="370.0,421.5 373.0,420.5 401.5,527.0 392.0,530.0" fill="#f1f3f0" stroke="#9a9a98" stroke-width="0.8" />
<path d="M226,383 Q225,377 230,375.7 L370,421.8 L392,530 L258,482.4 Z" fill="#f7f8f6" stroke="#9a9a98" stroke-width="0.9" />
<polygon points="234.7,393.5 356.4,433.7 385.0,518.4 262.0,476.0" fill="#f9faf8" stroke="#9a9a98" stroke-width="0.8" />
<polygon points="237.5,397.5 354.5,436.5 381.5,514.5 264.0,473.5" fill="none" stroke="#b9b9b7" stroke-width="0.6" />
<rect x="358.6" y="421" width="10.6" height="70" fill="url(#thr)" opacity="0.55"/>
<path d="M258,483.5 L173.5,563 Q170.5,566.5 171,570.5 L171.5,573 Q172,575.5 176,577 L305,625.5 Q311.5,627.5 316,623.5 L404.5,538 Q406,536 405.5,533.5 L400,528 L392,530 Z" fill="#f6f7f5" stroke="#9a9a98" stroke-width="0.9" />
<path d="M171,568.5 Q171.5,571 176,572.8 L305,621.3 Q311.5,623 316,619.3 L405,533.5" fill="none" stroke="#9a9a98" stroke-width="0.7" />
<path d="M258,483.5 L392,530" fill="none" stroke="#b5b5b3" stroke-width="1.4" />
</g>
</svg>
</body></html>
